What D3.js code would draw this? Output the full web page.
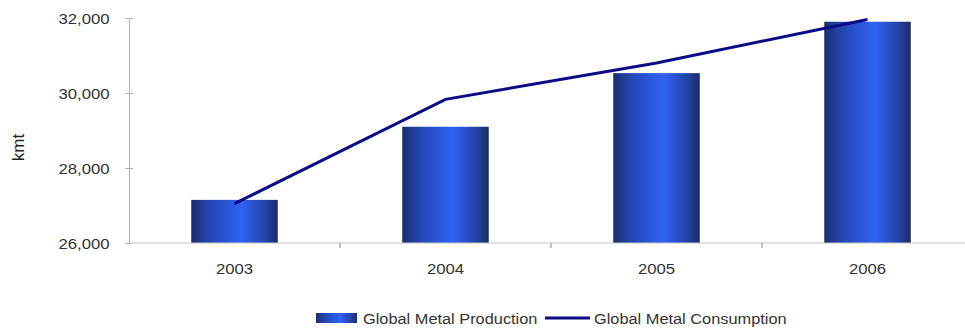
<!DOCTYPE html>
<html>
<head>
<meta charset="utf-8">
<script src="https://cdn.jsdelivr.net/npm/d3@7"></script>
<style>
  html, body { margin: 0; padding: 0; background: #fff; }
  svg { display: block; font-family: "Liberation Sans", Arial, sans-serif; }
</style>
</head>
<body>
<svg id="chart" width="965" height="334"></svg>
<script>
// Metal market, kilo-metric tonnes
const years = ["2003", "2004", "2005", "2006"];
const production = [27150, 29100, 30530, 31900];
const consumption = [27050, 29830, 30800, 31960];
const yTicks = [26000, 28000, 30000, 32000];
const seriesNames = ["Global Metal Production", "Global Metal Consumption"];

const svg = d3.select("#chart");
const plot = { left: 129, right: 973, top: 18, bottom: 243 };
const textColor = "#333";
const fontSize = "15.5px";
const widen = "scale(1.08,1)";
const widenLegend = "scale(1.055,1)";

const x = d3.scaleBand().domain(years).range([plot.left, plot.right]).paddingInner(0.59).paddingOuter(0.295);
const y = d3.scaleLinear().domain([26000, 32000]).range([plot.bottom, plot.top]);

// Horizontal shading for the cylinder-like bars
const defs = svg.append("defs");
const grad = defs.append("linearGradient").attr("id", "barGrad").attr("x1", "0%").attr("x2", "100%").attr("y1", "0%").attr("y2", "0%");
[["0%", "#1b2d6b"], ["20%", "#2446b0"], ["58%", "#2f63f6"], ["85%", "#2443a8"], ["100%", "#1a2c66"]]
  .forEach(([o, c]) => grad.append("stop").attr("offset", o).attr("stop-color", c));

// Bars
svg.append("g").selectAll("rect").data(years).join("rect")
  .attr("x", d => x(d))
  .attr("width", x.bandwidth())
  .attr("y", (d, i) => y(production[i]))
  .attr("height", (d, i) => y(26000) - y(production[i]))
  .attr("fill", "url(#barGrad)");

// Y axis
const yAxis = d3.axisLeft(y).tickValues(yTicks).tickFormat(d3.format(",")).tickSizeInner(4).tickSizeOuter(0).tickPadding(17);
const gy = svg.append("g").attr("transform", `translate(${plot.left},0)`).call(yAxis);
gy.select(".domain").attr("stroke", "#b3b3b3");
gy.selectAll(".tick line").attr("stroke", "#b3b3b3").attr("x1", 4).attr("x2", -4);
gy.selectAll(".tick text")
  .attr("fill", textColor)
  .attr("x", -18)
  .attr("dy", "0.36em")
  .attr("transform", widen)
  .style("font-size", fontSize);

// X axis: baseline, separators between categories, year labels
const gx = svg.append("g").attr("transform", `translate(0,${plot.bottom})`);
gx.append("line").attr("x1", plot.left).attr("x2", plot.right).attr("stroke", "#c4c4c4");
const step = x.step();
gx.selectAll(".sep").data(years.slice(1)).join("line")
  .attr("x1", d => x(d) - (step - x.bandwidth()) / 2)
  .attr("x2", d => x(d) - (step - x.bandwidth()) / 2)
  .attr("y1", 0).attr("y2", 5).attr("stroke", "#8a8a8a");
gx.selectAll("text").data(years).join("text")
  .attr("transform", d => `translate(${x(d) + x.bandwidth() / 2},31) ${widen}`)
  .attr("text-anchor", "middle")
  .attr("fill", textColor)
  .style("font-size", fontSize)
  .text(d => d);

// Y axis title
svg.append("text")
  .attr("transform", `translate(24,${(plot.top + plot.bottom) / 2 + 17}) rotate(-90)`)
  .attr("text-anchor", "middle")
  .attr("fill", "#222")
  .style("font-size", "17px")
  .text("kmt");

// Consumption line
const line = d3.line().x((d, i) => x(years[i]) + x.bandwidth() / 2).y(d => y(d));
svg.append("path").datum(consumption)
  .attr("d", line)
  .attr("fill", "none")
  .attr("stroke", "#0b0b86")
  .attr("stroke-width", 3);

// Legend
const lg = svg.append("g").attr("transform", "translate(0,318)");
lg.append("rect").attr("x", 316).attr("y", -5).attr("width", 41).attr("height", 10).attr("fill", "url(#barGrad)");
lg.append("text").attr("transform", `translate(363,5.5) ${widenLegend}`).attr("fill", textColor).style("font-size", fontSize).text(seriesNames[0]);
lg.append("line").attr("x1", 545).attr("x2", 590).attr("y1", 0).attr("y2", 0).attr("stroke", "#0b0b86").attr("stroke-width", 3);
lg.append("text").attr("transform", `translate(594,5.5) ${widenLegend}`).attr("fill", textColor).style("font-size", fontSize).text(seriesNames[1]);
</script>
</body>
</html>
